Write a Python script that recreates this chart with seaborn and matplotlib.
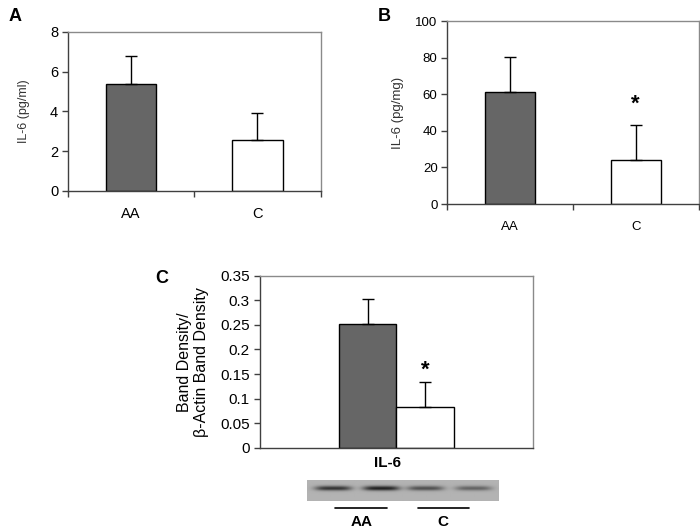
import numpy as np
import pandas as pd
import matplotlib
matplotlib.use("Agg")
import matplotlib.pyplot as plt
import seaborn as sns

# data
groups = ["AA", "C"]
serum_il6 = [5.35, 2.55]          # panel A, pg/ml
serum_il6_err = [1.45, 1.35]
tissue_il6 = [61.5, 24.0]         # panel B, pg/mg
tissue_il6_err = [19.0, 19.0]
band_ratio = [0.252, 0.083]       # panel C, band density / beta-actin
band_ratio_err = [0.051, 0.050]
blot_lanes = ["AA", "AA", "C", "C"]
blot_intensity = [0.80, 0.92, 0.62, 0.50]

bar_colors = {"AA": "#666666", "C": "#ffffff"}

sns.set_style("white")
plt.rcParams["font.family"] = ["Liberation Sans", "DejaVu Sans"]
plt.rcParams["text.color"] = "black"
plt.rcParams["axes.labelcolor"] = "black"
plt.rcParams["xtick.color"] = "black"
plt.rcParams["ytick.color"] = "black"

fig = plt.figure(figsize=(7.0, 5.3), dpi=100)


def style_axes(ax):
    for s in ["left", "bottom"]:
        ax.spines[s].set_color("#404040")
        ax.spines[s].set_linewidth(1.0)
    for s in ["top", "right"]:
        ax.spines[s].set_color("#8a8a8a")
        ax.spines[s].set_linewidth(1.0)
    ax.tick_params(axis="y", left=True, direction="out", length=4, width=1,
                   color="#404040", pad=3)


def category_panel(ax, values, errs, ylim, yticks, ylabel, fontsize, labelsize):
    df = pd.DataFrame({"group": groups, "value": values})
    sns.barplot(data=df, x="group", y="value", hue="group", palette=bar_colors,
                width=0.4, edgecolor="black", linewidth=1.0, legend=False, ax=ax)
    ax.errorbar(range(len(groups)), values, yerr=[np.zeros(len(errs)), errs],
                fmt="none", ecolor="black", elinewidth=1.0, capsize=4, capthick=1.0)
    ax.set_xlim(-0.5, len(groups) - 0.5)
    ax.set_ylim(*ylim)
    ax.set_yticks(yticks)
    ax.set_yticklabels([f"{t:g}" for t in yticks], fontsize=fontsize)
    # Excel-style ticks between categories
    ax.set_xticks([-0.5, 0.5, 1.5])
    ax.set_xticklabels([])
    ax.set_xticks(range(len(groups)), minor=True)
    ax.set_xticklabels(groups, minor=True, fontsize=fontsize)
    ax.tick_params(axis="x", which="major", bottom=True, direction="out", length=4,
                   width=1, color="#404040")
    ax.tick_params(axis="x", which="minor", length=0, pad=12)
    ax.set_xlabel("")
    ax.set_ylabel(ylabel, fontsize=labelsize, color="#333333")
    style_axes(ax)


# Panel A
axA = fig.add_axes([0.097, 0.640, 0.361, 0.300])
category_panel(axA, serum_il6, serum_il6_err, (0, 8), [0, 2, 4, 6, 8],
               "IL-6 (pg/ml)", 10.5, 9)
axA.yaxis.labelpad = 14

# Panel B
axB = fig.add_axes([0.639, 0.615, 0.359, 0.345])
category_panel(axB, tissue_il6, tissue_il6_err, (0, 100), [0, 20, 40, 60, 80, 100],
               "IL-6 (pg/mg)", 9.5, 9.5)
axB.yaxis.labelpad = 8
axB.text(1, tissue_il6[1] + tissue_il6_err[1] + 6, "*", ha="center", va="bottom",
         fontsize=16, fontweight="bold")

# Panel C
axC = fig.add_axes([0.371, 0.155, 0.390, 0.325])
dfC = pd.DataFrame({"target": ["IL-6"] * 2, "group": groups, "value": band_ratio})
sns.barplot(data=dfC, x="target", y="value", hue="group", palette=bar_colors,
            width=0.42, edgecolor="black", linewidth=1.0, legend=False, ax=axC)
bar_x = [p.get_x() + p.get_width() / 2 for p in axC.patches[:2]]
axC.errorbar(bar_x, band_ratio, yerr=[np.zeros(2), band_ratio_err],
             fmt="none", ecolor="black", elinewidth=1.0, capsize=4, capthick=1.0)
axC.set_xlim(-0.5, 0.5)
axC.set_ylim(0, 0.35)
ctick = [0, 0.05, 0.1, 0.15, 0.2, 0.25, 0.3, 0.35]
axC.set_yticks(ctick)
axC.set_yticklabels([f"{t:g}" for t in ctick], fontsize=11)
axC.set_xticks([])
axC.set_xlabel("")
axC.set_ylabel("Band Density/\n\u03b2-Actin Band Density", fontsize=11.5, linespacing=1.15)
axC.yaxis.labelpad = 8
axC.text(bar_x[1], band_ratio[1] + band_ratio_err[1] + 0.004, "*", ha="center",
         va="bottom", fontsize=16, fontweight="bold")
style_axes(axC)

# western blot strip
axW = fig.add_axes([0.439, 0.055, 0.273, 0.040])
nx, ny = 200, 24
img = np.full((ny, nx), 0.70)
yy = np.arange(ny)[:, None]
xx = np.arange(nx)[None, :]
for i, inten in enumerate(blot_intensity):
    cx = (i + 0.5) * nx / len(blot_lanes) + (2 if i < 2 else -2)
    prof_x = np.exp(-((xx - cx) / 19.0) ** 4)
    prof_y = np.exp(-((yy - ny * 0.40) / 2.6) ** 2)
    img = img - inten * 0.62 * prof_x * prof_y
axW.imshow(img, cmap="gray", vmin=0, vmax=1, aspect="auto", interpolation="bilinear")
axW.set_xticks([])
axW.set_yticks([])
for s in axW.spines.values():
    s.set_visible(False)

fig.text(0.553, 0.126, "IL-6", ha="center", va="center", fontsize=11, fontweight="bold")
fig.add_artist(plt.Line2D([0.479, 0.553], [0.041, 0.041], color="black", lw=1.2))
fig.add_artist(plt.Line2D([0.597, 0.670], [0.041, 0.041], color="black", lw=1.2))
fig.text(0.516, 0.015, "AA", ha="center", va="center", fontsize=11, fontweight="bold")
fig.text(0.633, 0.015, "C", ha="center", va="center", fontsize=11, fontweight="bold")

# panel letters
fig.text(0.012, 0.968, "A", ha="left", va="center", fontsize=13, fontweight="bold")
fig.text(0.540, 0.968, "B", ha="left", va="center", fontsize=13, fontweight="bold")
fig.text(0.222, 0.474, "C", ha="left", va="center", fontsize=13, fontweight="bold")

fig.savefig("out.png", dpi=100)
